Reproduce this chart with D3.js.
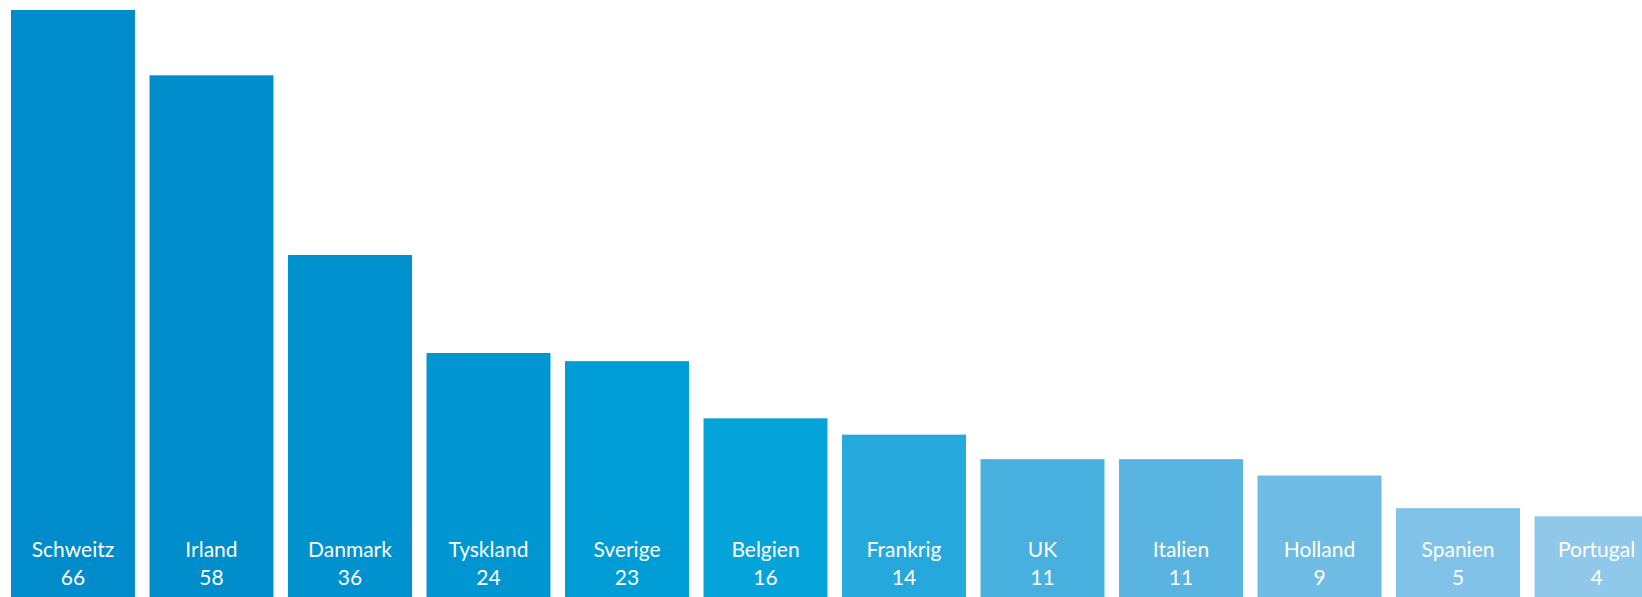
<!DOCTYPE html>
<html>
<head>
<meta charset="utf-8">
<script src="https://cdn.jsdelivr.net/npm/d3@7"></script>
<style>
    body { margin: 0; background: #fff; }
    svg { display: block; }
    .bar-label { font-family: "Lato", "Open Sans", sans-serif; fill: #fff; }
</style>
</head>
<body>
<div id="chart"></div>
<script>
// chart data
var countries = ["Schweitz", "Irland", "Danmark", "Tyskland", "Sverige", "Belgien",
    "Frankrig", "UK", "Italien", "Holland", "Spanien", "Portugal"];

var values = [66, 58, 36, 24, 23, 16, 14, 11, 11, 9, 5, 4];

var barColors = ["#008cca", "#008dcb", "#0092cf", "#0096d2", "#009cd6", "#04a4da",
    "#25a9dd", "#47b0df", "#5ab4e1", "#6ebbe4", "#80c2e8", "#90c8ea"];

var width = 1642;
var height = 597;

var svg = d3.select("#chart")
    .append("svg")
    .attr("width", width)
    .attr("height", height);

var x = d3.scaleBand()
    .domain(countries)
    .range([11, 1658.5])
    .paddingInner(0.105)
    .paddingOuter(0);

// bars keep a base strip at the bottom for the labels
var y = d3.scaleLinear()
    .domain([0, 66])
    .range([height - 48, 10]);

var rows = countries.map(function(c, i) {
    return { name: c, value: values[i], color: barColors[i] };
});

var bar = svg.selectAll(".bar")
    .data(rows)
    .enter()
    .append("g")
    .attr("class", "bar")
    .attr("transform", function(d) { return "translate(" + x(d.name) + ",0)"; });

bar.append("rect")
    .attr("x", 0)
    .attr("y", function(d) { return y(d.value); })
    .attr("width", x.bandwidth())
    .attr("height", function(d) { return height - y(d.value); })
    .attr("fill", function(d) { return d.color; });

bar.append("text")
    .attr("class", "bar-label")
    .attr("x", x.bandwidth() / 2)
    .attr("y", 557)
    .attr("text-anchor", "middle")
    .style("font-size", "21px")
    .text(function(d) { return d.name; });

bar.append("text")
    .attr("class", "bar-label")
    .attr("x", x.bandwidth() / 2)
    .attr("y", 585)
    .attr("text-anchor", "middle")
    .style("font-size", "21px")
    .text(function(d) { return d.value; });
</script>
</body>
</html>
